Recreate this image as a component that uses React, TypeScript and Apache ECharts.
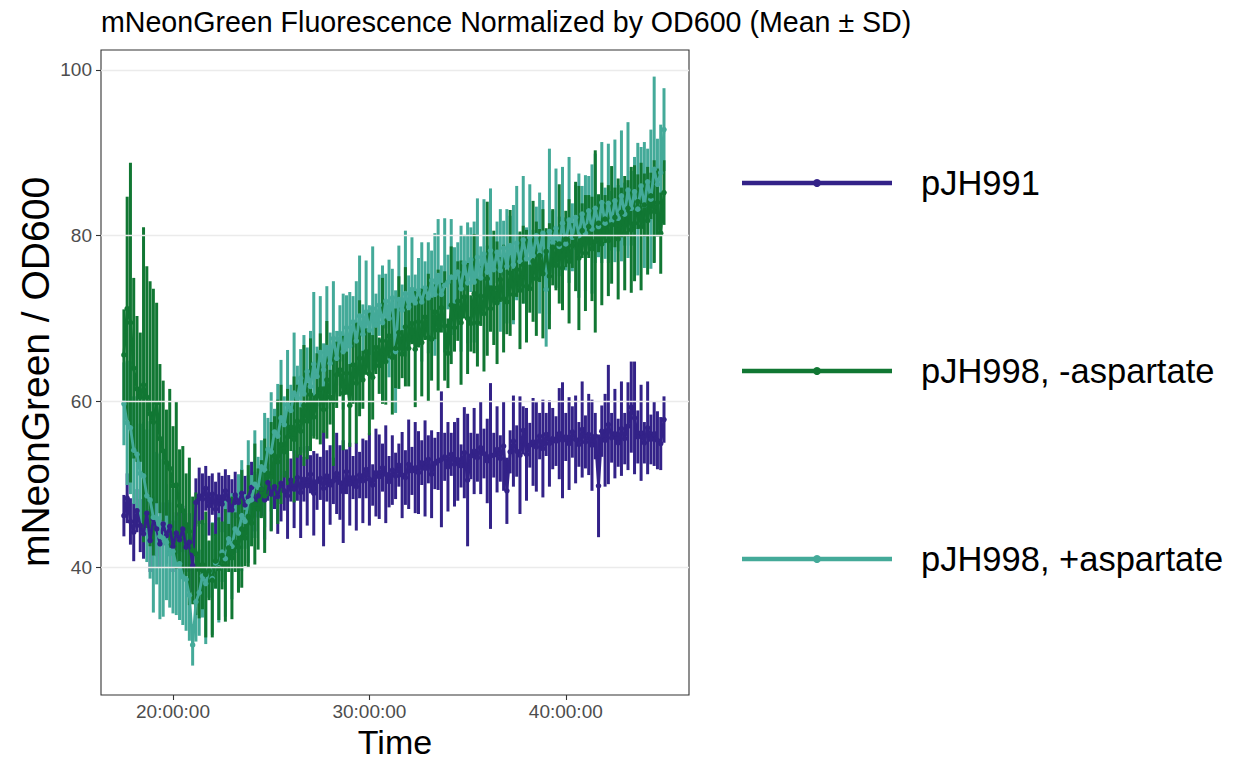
import React, { useEffect, useRef } from "react";
import * as echarts from "echarts";

// Sampling: one reading every 10 minutes starting at 17:30:00
const START_HOUR = 17.5;
const STEP_MINUTES = 10;

const seriesNames = ["pJH991", "pJH998, -aspartate", "pJH998, +aspartate"];
const seriesColors = ["#332288", "#117733", "#44AA99"];

const xTickValues = [20, 30, 40];
const yTickValues = [40, 60, 80, 100];

// pJH991 mean and SD
const pJH991Mean = [
  46.2, 48.3, 45.5, 44.2, 46.8, 45.0,
  44.0, 46.5, 43.2, 45.8, 44.6, 42.8,
  45.2, 43.8, 44.9, 42.5, 44.1, 43.3,
  44.6, 42.4, 43.0, 40.2, 47.8, 48.6,
  48.2, 49.5, 47.4, 48.8, 47.0, 48.5,
  47.6, 49.2, 48.1, 46.9, 48.7, 47.8,
  48.9, 47.5, 48.4, 49.6, 47.9, 48.6,
  49.4, 48.1, 50.2, 48.8, 49.7, 48.5,
  50.1, 49.2, 48.6, 50.5, 49.4, 50.8,
  49.0, 50.6, 49.8, 51.2, 48.9, 50.3,
  50.7, 49.5, 51.0, 49.9, 50.4, 51.3,
  50.2, 49.1, 51.5, 50.0, 50.8, 49.7,
  51.1, 50.4, 51.8, 50.6, 49.9, 51.4,
  50.9, 52.0, 51.2, 50.3, 51.7, 51.0,
  52.3, 51.1, 50.8, 52.4, 51.6, 52.0,
  51.4, 52.6, 51.9, 53.0, 51.2, 52.5,
  52.8, 53.0, 53.3, 52.1, 53.6, 52.4,
  53.0, 52.2, 53.8, 50.5, 53.4, 54.0,
  53.2, 54.4, 53.7, 52.8, 53.4, 53.5,
  54.2, 53.1, 54.6, 49.2, 53.9, 55.2,
  54.0, 53.5, 56.5, 53.6, 54.7, 55.1,
  54.5, 55.8, 54.3, 56.0, 54.9, 55.5,
  55.2, 56.1, 55.3, 55.7, 54.9, 56.3,
  55.4, 54.8, 56.6, 55.1, 56.0, 54.7,
  55.8, 49.8, 56.4, 55.3, 57.2, 55.6,
  56.1, 55.0, 56.7, 55.5, 57.0, 59.3,
  58.0, 55.7, 56.2, 55.0, 56.8, 55.4,
  56.1, 55.3, 54.9, 57.8,
];
const pJH991Sd = [
  2.5, 3.0, 2.8, 3.5, 2.6, 3.2,
  3.0, 2.4, 3.8, 2.7, 3.3, 2.9,
  2.6, 3.4, 2.9, 3.1, 2.5, 3.6,
  2.8, 3.0, 3.5, 3.2, 2.9, 3.4,
  3.1, 2.7, 3.6, 2.5, 3.3, 2.9,
  3.4, 2.6, 3.0, 3.7, 2.8, 3.2,
  2.9, 3.5, 2.7, 3.1, 3.6, 2.6,
  3.3, 4.8, 2.2, 4.4, 2.7, 4.5,
  4.6, 2.4, 5.2, 2.6, 4.7, 2.8,
  5.5, 2.7, 4.8, 2.3, 5.1, 3.4,
  2.6, 7.0, 3.1, 4.8, 2.8, 4.9,
  4.5, 6.2, 2.7, 5.0, 2.6, 5.3,
  2.8, 5.1, 3.5, 5.6, 2.5, 5.3,
  5.1, 2.9, 5.9, 3.1, 4.2, 2.8,
  2.6, 5.2, 3.3, 5.4, 2.9, 5.5,
  5.0, 2.7, 5.8, 2.9, 5.3, 3.1,
  3.5, 8.2, 2.9, 5.4, 2.6, 5.1,
  5.0, 2.6, 5.5, 8.0, 2.8, 5.2,
  2.9, 5.6, 3.0, 5.1, 8.8, 2.7,
  5.2, 2.8, 5.4, 4.0, 2.6, 5.5,
  3.1, 7.1, 2.9, 5.6, 2.7, 5.3,
  5.4, 2.8, 5.9, 2.6, 5.2, 3.7,
  3.0, 5.5, 7.0, 2.9, 5.6, 3.1,
  5.3, 2.7, 5.8, 3.2, 4.9, 5.5,
  2.8, 6.2, 3.1, 5.6, 7.2, 3.0,
  5.4, 2.9, 5.7, 3.1, 5.3, 5.5,
  6.8, 3.2, 5.8, 2.5, 5.6, 3.0,
  3.9, 3.5, 3.2, 2.8,
];

// pJH998, -aspartate mean and SD
const minusAspMean = [
  65.6, 71.2, 69.5, 64.0, 61.5, 60.5,
  62.0, 60.5, 58.5, 57.5, 59.8, 55.5,
  54.0, 52.6, 51.9, 49.8, 49.9, 47.4,
  46.8, 45.1, 44.3, 42.0, 41.6, 39.7,
  40.3, 39.1, 39.6, 38.4, 40.7, 39.8,
  41.4, 40.2, 42.3, 41.1, 43.0, 42.4,
  44.6, 43.5, 46.1, 45.3, 47.6, 47.0,
  49.4, 48.6, 51.3, 50.9, 53.4, 52.7,
  54.8, 53.9, 55.7, 56.9, 55.4, 57.6,
  56.4, 59.5, 57.6, 60.8, 58.1, 60.6,
  61.5, 59.0, 62.6, 60.5, 60.0, 63.2,
  63.8, 61.0, 63.4, 59.5, 64.4, 62.2,
  65.2, 62.6, 66.0, 63.3, 62.9, 66.5,
  64.3, 67.3, 64.8, 67.9, 65.3, 66.4,
  68.3, 65.7, 69.0, 66.4, 69.4, 66.3,
  69.6, 67.1, 70.2, 67.7, 67.5, 70.8,
  68.6, 71.3, 69.1, 65.8, 71.6, 68.9,
  72.1, 69.5, 72.6, 70.0, 69.4, 73.0,
  69.5, 72.7, 70.6, 74.8, 71.2, 73.7,
  71.9, 74.7, 72.4, 72.0, 75.5, 72.9,
  75.9, 73.4, 76.5, 73.9, 73.6, 76.9,
  74.8, 77.6, 75.4, 78.1, 75.1, 78.6,
  76.4, 79.0, 76.1, 79.6, 76.9, 78.8,
  79.9, 77.3, 80.6, 77.9, 81.1, 78.4,
  79.3, 81.5, 79.0, 82.0, 79.4, 81.3,
  82.2, 79.6, 82.8, 80.3, 83.3, 80.7,
  81.5, 84.1, 81.1, 83.7, 81.8, 84.8,
  82.9, 84.0, 80.3, 85.2,
];
const minusAspSd = [
  5.5, 13.5, 19.3, 10.9, 8.8, 7.8,
  19.0, 15.8, 16.0, 16.1, 12.1, 9.0,
  8.5, 6.4, 9.6, 7.2, 10.1, 6.8,
  7.8, 6.2, 8.9, 6.5, 7.4, 5.9,
  5.4, 7.6, 3.6, 6.9, 3.3, 6.2,
  4.1, 6.8, 2.9, 7.4, 3.6, 5.5,
  7.1, 3.4, 6.2, 2.8, 7.3, 4.9,
  3.5, 6.9, 2.7, 6.6, 4.8, 7.5,
  7.2, 3.1, 5.8, 2.9, 7.6, 4.4,
  2.9, 7.3, 4.6, 6.8, 2.6, 5.2,
  6.7, 2.8, 7.1, 3.3, 7.8, 4.0,
  3.2, 6.9, 2.6, 5.0, 4.7, 7.3,
  7.0, 3.5, 2.8, 7.4, 5.1, 3.2,
  3.4, 7.6, 5.2, 2.7, 6.9, 4.8,
  6.8, 2.9, 7.2, 4.6, 2.5, 7.0,
  3.1, 6.5, 2.8, 7.7, 5.0, 3.3,
  7.3, 3.0, 6.6, 4.2, 7.1, 2.9,
  4.8, 7.5, 2.6, 6.7, 3.4, 7.2,
  5.3, 3.6, 7.0, 9.3, 2.8, 6.9,
  7.4, 2.7, 6.5, 3.9, 7.6, 3.1,
  3.3, 7.1, 4.7, 6.8, 2.9, 7.3,
  6.9, 3.2, 7.8, 2.8, 6.4, 4.6,
  3.0, 7.2, 5.1, 3.4, 7.5, 2.7,
  6.6, 8.7, 3.3, 7.0, 3.8, 6.3,
  11.0, 3.5, 7.4, 2.9, 6.7, 7.1,
  3.6, 7.3, 3.0, 6.9, 3.4, 7.6,
  7.0, 3.3, 7.7, 3.8, 6.5, 2.8,
  6.2, 4.1, 4.9, 3.9,
];

// pJH998, +aspartate mean and SD
const plusAspMean = [
  59.7, 57.4, 56.8, 54.1, 53.6, 51.3,
  51.0, 48.6, 48.1, 46.0, 45.9, 43.7,
  43.5, 43.0, 41.6, 41.9, 40.2, 40.4,
  38.8, 38.5, 36.6, 30.6, 35.8, 36.9,
  38.9, 38.0, 39.7, 38.6, 40.5, 39.9,
  41.8, 41.0, 43.4, 42.5, 44.6, 44.1,
  46.2, 45.5, 47.9, 48.1, 50.0, 49.6,
  52.1, 51.7, 54.2, 53.9, 56.3, 55.8,
  58.0, 57.2, 59.6, 58.9, 61.0, 60.4,
  62.8, 60.9, 63.6, 61.8, 64.5, 63.0,
  65.9, 63.8, 66.5, 64.6, 67.6, 65.2,
  68.2, 66.0, 68.9, 66.7, 69.6, 67.3,
  70.3, 68.1, 70.8, 68.6, 71.2, 69.2,
  71.6, 69.5, 72.1, 70.0, 72.5, 66.0,
  72.3, 71.0, 73.0, 71.4, 73.5, 71.9,
  73.4, 72.0, 73.7, 72.5, 74.6, 72.9,
  75.2, 72.9, 74.0, 74.4, 75.0, 74.9,
  75.6, 73.6, 76.7, 74.3, 77.1, 74.4,
  77.4, 74.9, 77.8, 75.6, 78.2, 75.9,
  78.0, 75.8, 78.5, 76.3, 78.8, 76.5,
  79.1, 76.9, 79.5, 77.2, 79.8, 77.6,
  80.0, 77.9, 80.3, 73.5, 80.5, 79.2,
  80.9, 78.7, 81.5, 79.0, 81.9, 79.8,
  82.2, 80.0, 82.6, 80.3, 83.0, 80.8,
  83.3, 81.1, 84.0, 81.5, 83.9, 81.8,
  84.2, 82.1, 84.8, 82.6, 85.5, 83.3,
  85.3, 83.2, 86.0, 83.7, 86.5, 84.4,
  88.0, 86.2, 87.6, 92.8,
];
const plusAspSd = [
  5.0, 7.5, 8.0, 6.5, 7.0, 6.0,
  6.5, 8.0, 9.5, 11.5, 8.0, 10.0,
  9.5, 7.0, 6.5, 7.5, 6.0, 6.8,
  5.8, 6.2, 5.5, 2.5, 4.8, 5.2,
  5.0, 7.3, 3.4, 6.8, 3.1, 6.6,
  3.6, 7.0, 3.2, 6.4, 2.9, 7.1,
  6.7, 3.3, 7.4, 3.0, 6.5, 3.7,
  3.2, 6.9, 3.8, 7.2, 2.8, 6.3,
  7.0, 3.4, 6.6, 3.1, 7.3, 3.9,
  3.5, 7.1, 2.9, 6.7, 8.7, 3.6,
  6.8, 3.2, 7.4, 3.7, 6.9, 3.3,
  3.4, 7.0, 3.9, 6.5, 3.1, 7.2,
  7.3, 3.6, 6.2, 3.0, 7.5, 3.8,
  3.7, 6.9, 3.3, 7.1, 3.5, 7.4,
  6.5, 3.1, 7.6, 3.8, 6.3, 3.4,
  3.9, 7.2, 3.2, 6.7, 3.6, 7.4,
  6.8, 3.5, 8.1, 3.3, 7.0, 3.7,
  3.6, 7.6, 3.4, 7.3, 3.9, 7.3,
  7.1, 3.8, 6.6, 3.2, 7.5, 4.0,
  3.7, 7.4, 3.3, 6.9, 3.6, 7.2,
  6.9, 3.4, 7.7, 3.8, 6.4, 3.1,
  3.5, 7.3, 4.0, 6.9, 10.0, 3.8,
  7.2, 3.6, 6.8, 3.2, 7.6, 4.1,
  3.9, 7.5, 3.4, 7.0, 4.2, 7.8,
  6.6, 3.7, 7.3, 4.3, 7.2, 3.6,
  7.4, 4.0, 7.9, 3.8, 8.2, 4.5,
  4.2, 8.0, 4.7, 7.6, 4.0, 8.4,
  11.2, 5.5, 5.8, 5.0,
];

const FONT = "'Liberation Sans', Arial, Helvetica, sans-serif";

export default function App() {
  const ref = useRef<HTMLDivElement | null>(null);

  useEffect(() => {
    if (!ref.current) return;
    const chart = echarts.init(ref.current, null, { renderer: "svg" });

    const groups = [
      { name: seriesNames[0], color: seriesColors[0], mean: pJH991Mean, sd: pJH991Sd },
      { name: seriesNames[2], color: seriesColors[2], mean: plusAspMean, sd: plusAspSd },
      { name: seriesNames[1], color: seriesColors[1], mean: minusAspMean, sd: minusAspSd },
    ];

    const series: any[] = [
      {
        type: "line",
        name: "grid",
        data: [],
        silent: true,
        z: 0,
        markLine: {
          silent: true,
          symbol: ["none", "none"],
          label: { show: false },
          lineStyle: { color: "#EBEBEB", width: 1.4, type: "solid" },
          data: yTickValues.map((v) => ({ yAxis: v })),
          animation: false,
        },
      },
    ];

    groups.forEach((g) => {
      const times = g.mean.map((_, i) => START_HOUR + (i * STEP_MINUTES) / 60);
      const color = g.color;
      series.push({
        type: "custom",
        name: g.name,
        data: g.mean.map((m, i) => [times[i], m - g.sd[i], m + g.sd[i]]),
        encode: { x: 0, y: [1, 2] },
        renderItem: (params: any, api: any) => {
          const x = api.value(0);
          const p1 = api.coord([x, api.value(1)]);
          const p2 = api.coord([x, api.value(2)]);
          return {
            type: "line",
            shape: { x1: p1[0], y1: p1[1], x2: p2[0], y2: p2[1] },
            style: { stroke: color, lineWidth: 3 },
          };
        },
        z: 2,
      });
      series.push({
        type: "line",
        name: g.name,
        data: g.mean.map((m, i) => [times[i], m]),
        symbol: "circle",
        symbolSize: 5.5,
        showSymbol: true,
        lineStyle: { color, width: 2.8 },
        itemStyle: { color },
        z: 2,
      });
    });

    const legendY = [183, 371, 559];
    const legendOrder = [0, 1, 2];
    const legendGraphics: any[] = [];
    legendOrder.forEach((k, idx) => {
      const y = legendY[idx];
      legendGraphics.push(
        {
          type: "line",
          shape: { x1: 742, y1: y, x2: 892, y2: y },
          style: { stroke: seriesColors[k], lineWidth: 4.5 },
        },
        {
          type: "circle",
          shape: { cx: 817, cy: y, r: 4 },
          style: { fill: seriesColors[k] },
        },
        {
          type: "text",
          x: 921,
          y: y,
          style: {
            text: seriesNames[k],
            fontSize: 34.5,
            fontFamily: FONT,
            fill: "#000000",
            align: "left",
            verticalAlign: "middle",
          },
        }
      );
    });

    chart.setOption({
      animation: false,
      backgroundColor: "#FFFFFF",
      grid: {
        left: 101,
        top: 50,
        width: 588,
        height: 645,
        show: true,
        borderColor: "#333333",
        borderWidth: 1.1,
        backgroundColor: "transparent",
        containLabel: false,
        outerBoundsMode: "none",
      },
      xAxis: {
        type: "value",
        min: 16.334,
        max: 46.273,
        axisLine: { show: false },
        axisTick: {
          show: true,
          length: 5,
          lineStyle: { color: "#333333", width: 1.1 },
          customValues: xTickValues,
        },
        axisLabel: {
          customValues: xTickValues,
          formatter: (v: number) => `${v}:00:00`,
          fontSize: 19,
          lineHeight: 19,
          color: "#4D4D4D",
          fontFamily: FONT,
          margin: 7,
        },
        splitLine: { show: false },
      },
      yAxis: {
        type: "value",
        min: 24.55,
        max: 102.41,
        axisLine: { show: false },
        axisTick: {
          show: true,
          length: 5,
          lineStyle: { color: "#333333", width: 1.1 },
          customValues: yTickValues,
        },
        axisLabel: {
          customValues: yTickValues,
          fontSize: 19,
          color: "#4D4D4D",
          fontFamily: FONT,
          margin: 9,
        },
        splitLine: { show: false },
      },
      graphic: [
        {
          type: "text",
          x: 101,
          y: 22,
          style: {
            text: "mNeonGreen Fluorescence Normalized by OD600 (Mean ± SD)",
            fontSize: 28.6,
            fontFamily: FONT,
            fill: "#000000",
            align: "left",
            verticalAlign: "middle",
          },
        },
        {
          type: "text",
          x: 395,
          y: 742,
          style: {
            text: "Time",
            fontSize: 34,
            lineHeight: 34,
            fontFamily: FONT,
            fill: "#000000",
            align: "center",
            verticalAlign: "middle",
          },
        },
        {
          type: "text",
          x: 35,
          y: 372,
          rotation: Math.PI / 2,
          style: {
            text: "mNeonGreen / OD600",
            fontSize: 39,
            fontFamily: FONT,
            fill: "#000000",
            align: "center",
            verticalAlign: "middle",
          },
        },
        ...legendGraphics,
      ],
      series,
    });

    return () => {
      chart.dispose();
    };
  }, []);

  return (
    <div
      ref={ref}
      style={{ position: "absolute", left: 0, top: 0, width: 1236, height: 761 }}
    />
  );
}
